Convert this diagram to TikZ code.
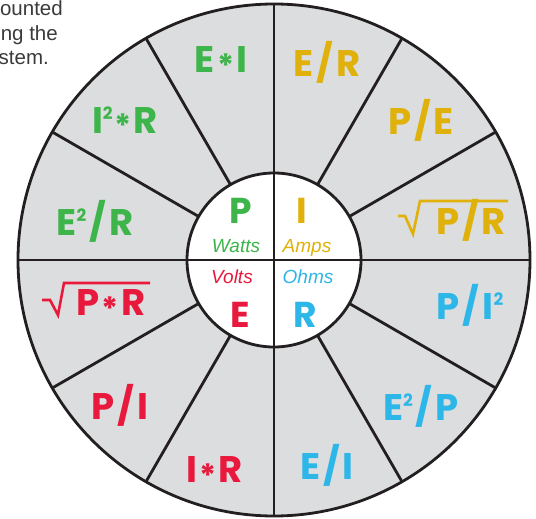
\documentclass[tikz,border=0pt]{standalone}
\usepackage{fontspec}
\usetikzlibrary{calc}
\newfontfamily\lblfont{Poppins}
\newfontfamily\hvfont{Liberation Sans}
\definecolor{cgreen}{HTML}{3DB54A}
\definecolor{cgold}{HTML}{DFB10A}
\definecolor{cred}{HTML}{E8193C}
\definecolor{cblue}{HTML}{2DB6E8}
\definecolor{cgray}{HTML}{DCDDDE}
\definecolor{cline}{HTML}{231F20}
\definecolor{ctext}{HTML}{3A3A3A}
\newcommand{\mysq}{{\fontsize{17}{17}\selectfont\raisebox{14pt}{2}}}
\newcommand{\mystar}{\hspace{2pt}{\fontsize{32}{32}\selectfont\raisebox{-5pt}{*}}\hspace{2pt}}
\newcommand{\myslash}{\hspace{3pt}/\hspace{3pt}}
\begin{document}
\begin{tikzpicture}[x=1pt,y=-1pt,
  ln/.style={draw=cline,line width=2.8pt},
  lbl/.style={anchor=base,inner sep=0pt,font=\lblfont\bfseries\fontsize{37}{37}\selectfont},
  big/.style={anchor=base,inner sep=0pt,font=\lblfont\bfseries\fontsize{36}{36}\selectfont},
  unit/.style={anchor=base,inner sep=0pt,font=\hvfont\itshape\fontsize{19}{19}\selectfont},
  side/.style={anchor=base east,inner sep=0pt,text=ctext,font=\hvfont\fontsize{20.5}{20.5}\selectfont},
  rad/.style={line width=2.6pt,line join=miter,line cap=butt}]
\useasboundingbox (0,0) rectangle (536,519);
\node[side] (t1) at (63,16) {ounted};
\node[side] (t2) at (58,41) {ng the};
\node[side] (t3) at (49,65) {stem.};
\coordinate (c) at (274,260);
\fill[cgray] (c) circle[radius=256pt];
\fill[white] (c) circle[radius=87pt];
\foreach \a in {30,60,120,150,210,240,300,330}
  \draw[ln] ($(c)+(\a:87pt)$) -- ($(c)+(\a:256pt)$);
\draw[ln] ($(c)+(0:256pt)$) -- ($(c)+(180:256pt)$);
\draw[ln] ($(c)+(90:256pt)$) -- ($(c)+(270:256pt)$);
\draw[ln] (c) circle[radius=87pt];
\draw[ln] (c) circle[radius=256pt];
% outer labels
\node[lbl,text=cgreen] (ei) at (221,73) {E\mystar I};
\node[lbl,text=cgold] (er) at (327,77) {E\myslash R};
\node[lbl,text=cgold] (pe) at (421,135) {P\myslash E};
\node[lbl,text=cgold] (pr) at (471,234) {P\myslash R};
\draw[rad,cgold] (398,216) -- (405,216) -- (413,234) -- (420,201) -- (508,201);
\node[lbl,text=cblue] (pi2) at (470,319) {P\myslash I\mysq};
\node[lbl,text=cblue] (e2p) at (421,420) {E\mysq\myslash P};
\node[lbl,text=cblue] (eii) at (327,479) {E\myslash I};
\node[lbl,text=cred] (ir) at (215,482) {I\mystar R};
\node[lbl,text=cred] (pii) at (120,419) {P\myslash I};
\node[lbl,text=cred] (pr2) at (111,315) {P\mystar R};
\draw[rad,cred] (42,300) -- (50,300) -- (58,315) -- (64,283) -- (150,283);
\node[lbl,text=cgreen] (e2r) at (95,235) {E\mysq\myslash R};
\node[lbl,text=cgreen] (i2r) at (125,133) {I\mysq\mystar R};
% inner
\node[big,text=cgreen] (P) at (241,223) {P};
\node[big,text=cgold] (I) at (302,223) {I};
\node[big,text=cred] (E) at (240,327) {E};
\node[big,text=cblue] (R) at (305,327) {R};
\node[unit,text=cgreen] (w) at (236,252) {Watts};
\node[unit,text=cgold] (a) at (307,252) {Amps};
\node[unit,text=cred] (v) at (232,283) {Volts};
\node[unit,text=cblue] (o) at (308,283) {Ohms};
\end{tikzpicture}
\end{document}
